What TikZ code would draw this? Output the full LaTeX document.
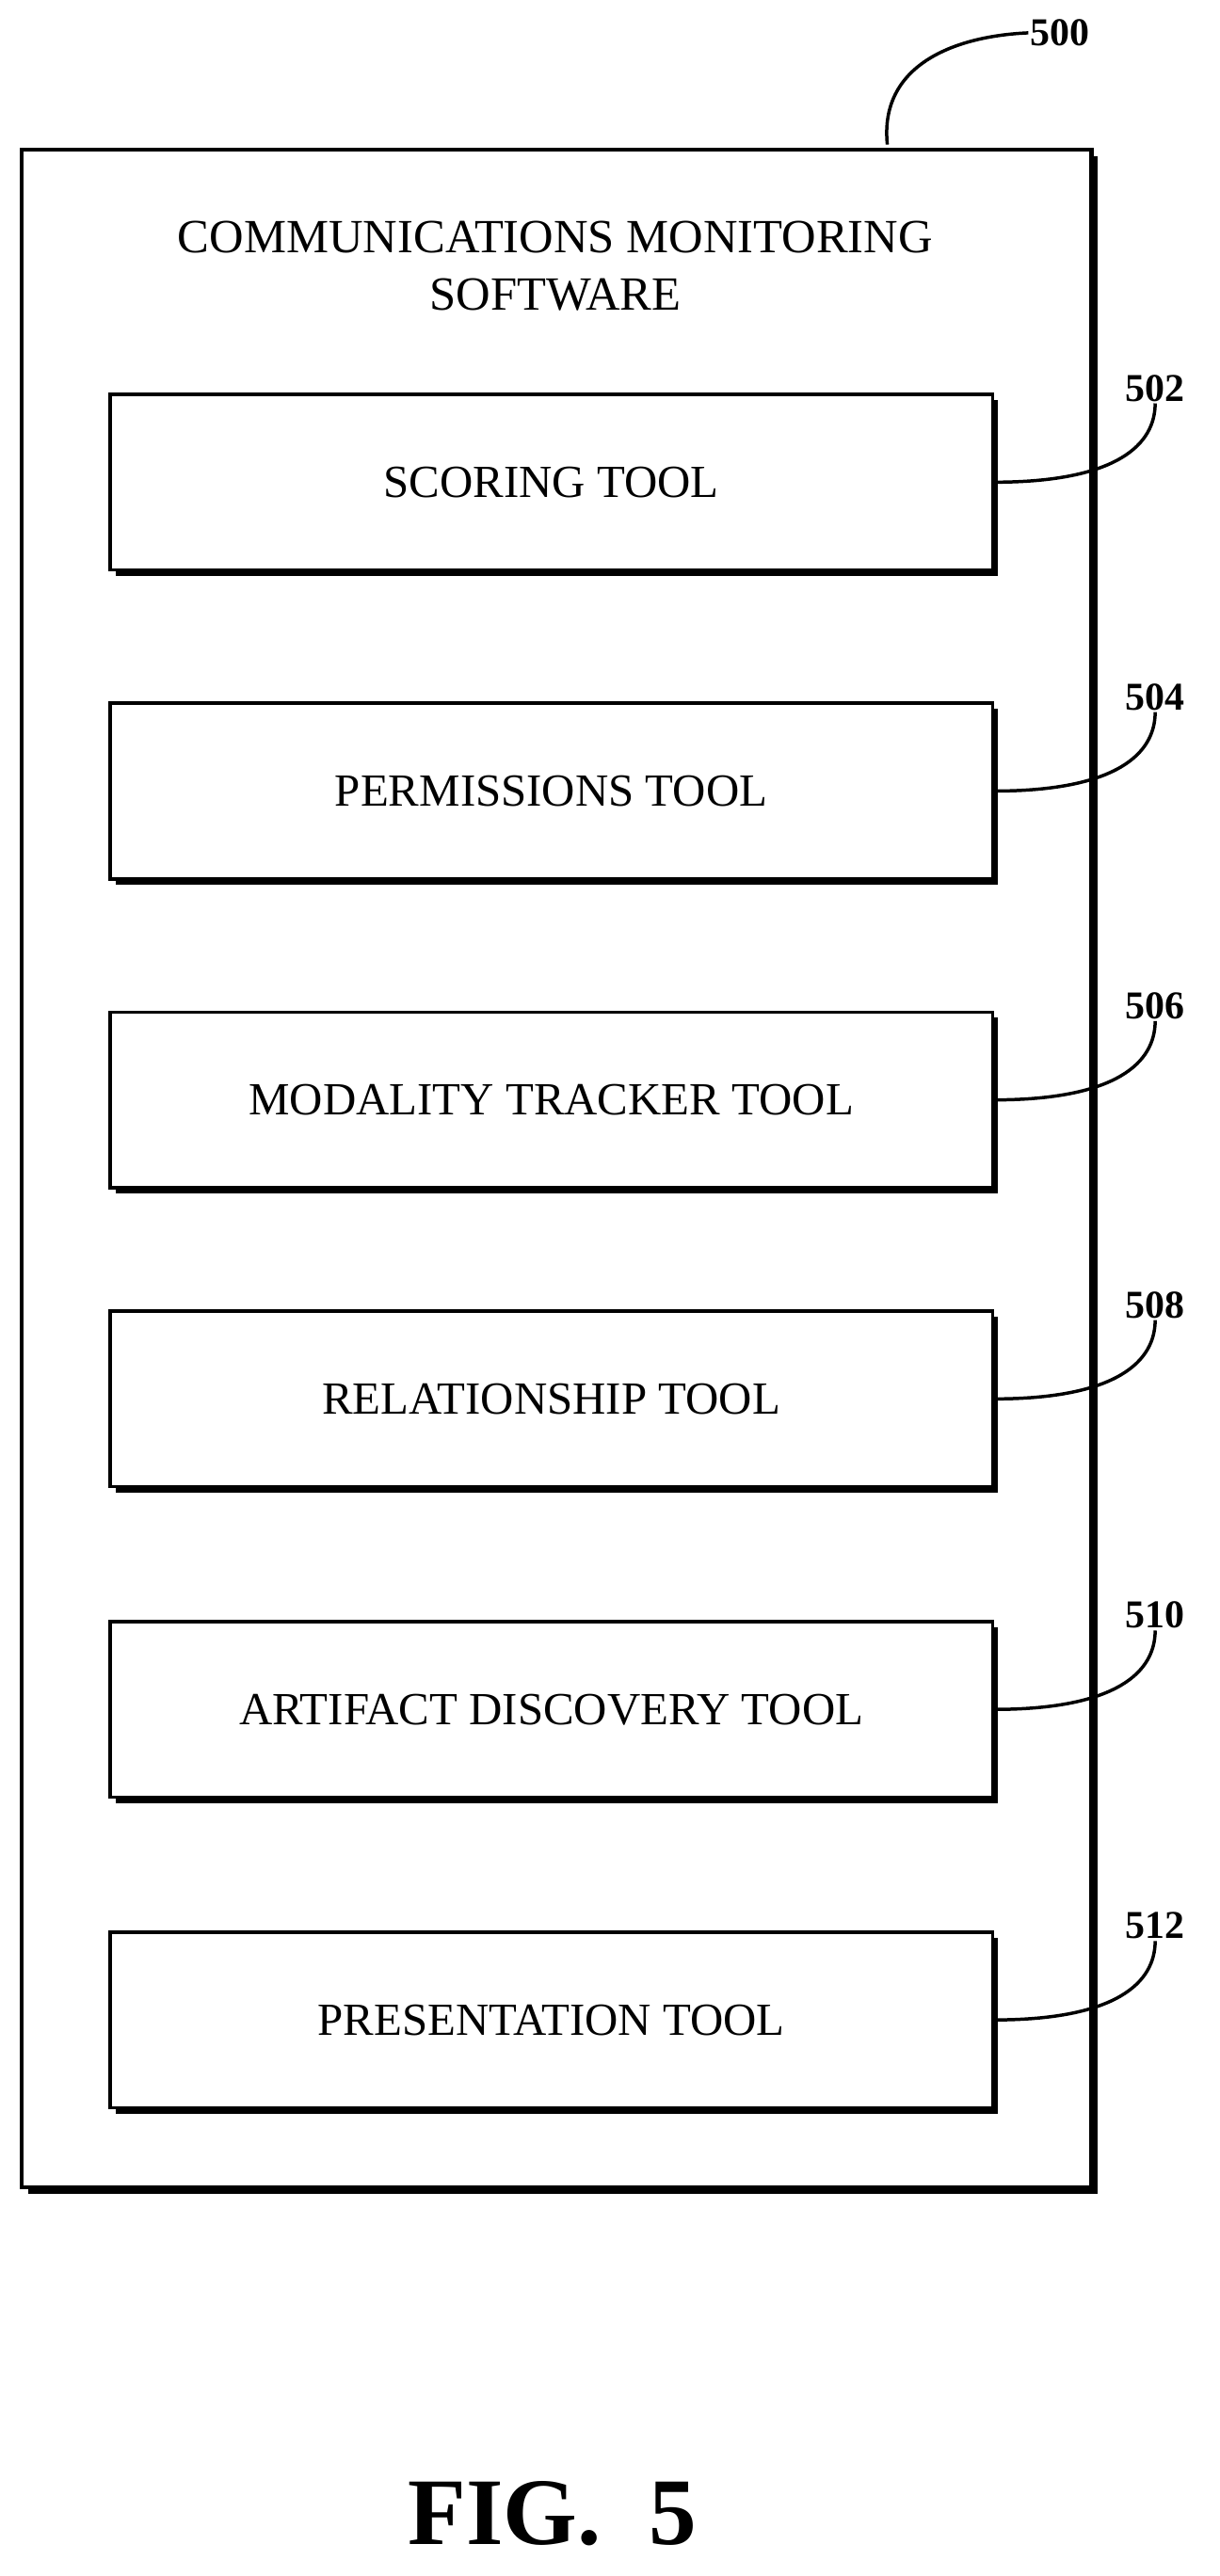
\documentclass[tikz,border=0pt]{standalone}
\usepackage{fontspec}
\setmainfont{Liberation Serif}
\usetikzlibrary{positioning,shadows}
\tikzset{tool/.style={draw,line width=2pt,fill=white,minimum width=537pt,minimum height=107pt,font=\fontsize{28}{32}\selectfont,
  drop shadow={shadow xshift=3.5pt,shadow yshift=-3.5pt,fill=black,opacity=1}},
  refnum/.style={font=\bfseries\fontsize{24}{28}\selectfont,inner sep=1pt},
  leader/.style={line width=2pt}}
\begin{document}
\begin{tikzpicture}[x=1pt,y=-1pt]
\useasboundingbox (0,0) rectangle (742,1568);
\node[draw,line width=2.5pt,fill=white,minimum width=651pt,minimum height=1240pt,anchor=north west,
  drop shadow={shadow xshift=4pt,shadow yshift=-4pt,fill=black,opacity=1}] (sw) at (12,90) {};
\node[align=center,font=\fontsize{29}{35}\selectfont] (title) at (338,162) {COMMUNICATIONS MONITORING\\SOFTWARE};
\node[tool] (score) at (335.5,293.5) {SCORING TOOL};
\node[tool,below=79pt of score] (perm) {PERMISSIONS TOOL};
\node[tool,below=79pt of perm] (modal) {MODALITY TRACKER TOOL};
\node[tool,below=73pt of modal] (rel) {RELATIONSHIP TOOL};
\node[tool,below=80pt of rel] (art) {ARTIFACT DISCOVERY TOOL};
\node[tool,below=80pt of art] (pres) {PRESENTATION TOOL};
\node[refnum] (n500) at (645,20) {500};
\draw[leader] (540,88) .. controls (535,40) and (580,22) .. (n500.west);
\foreach \b/\n [count=\i] in {score/502,perm/504,modal/506,rel/508,art/510,pres/512}{
  \node[refnum,anchor=south] (n\n) at ([xshift=98pt,yshift=48pt]\b.east) {\n};
  \draw[leader] (\b.east) .. controls +(75,0) and +(0,25) .. (n\n.south);
}
\node[font=\bfseries\fontsize{58}{62}\selectfont] (fig) at (336,1530) {FIG.~~5};
\end{tikzpicture}
\end{document}
